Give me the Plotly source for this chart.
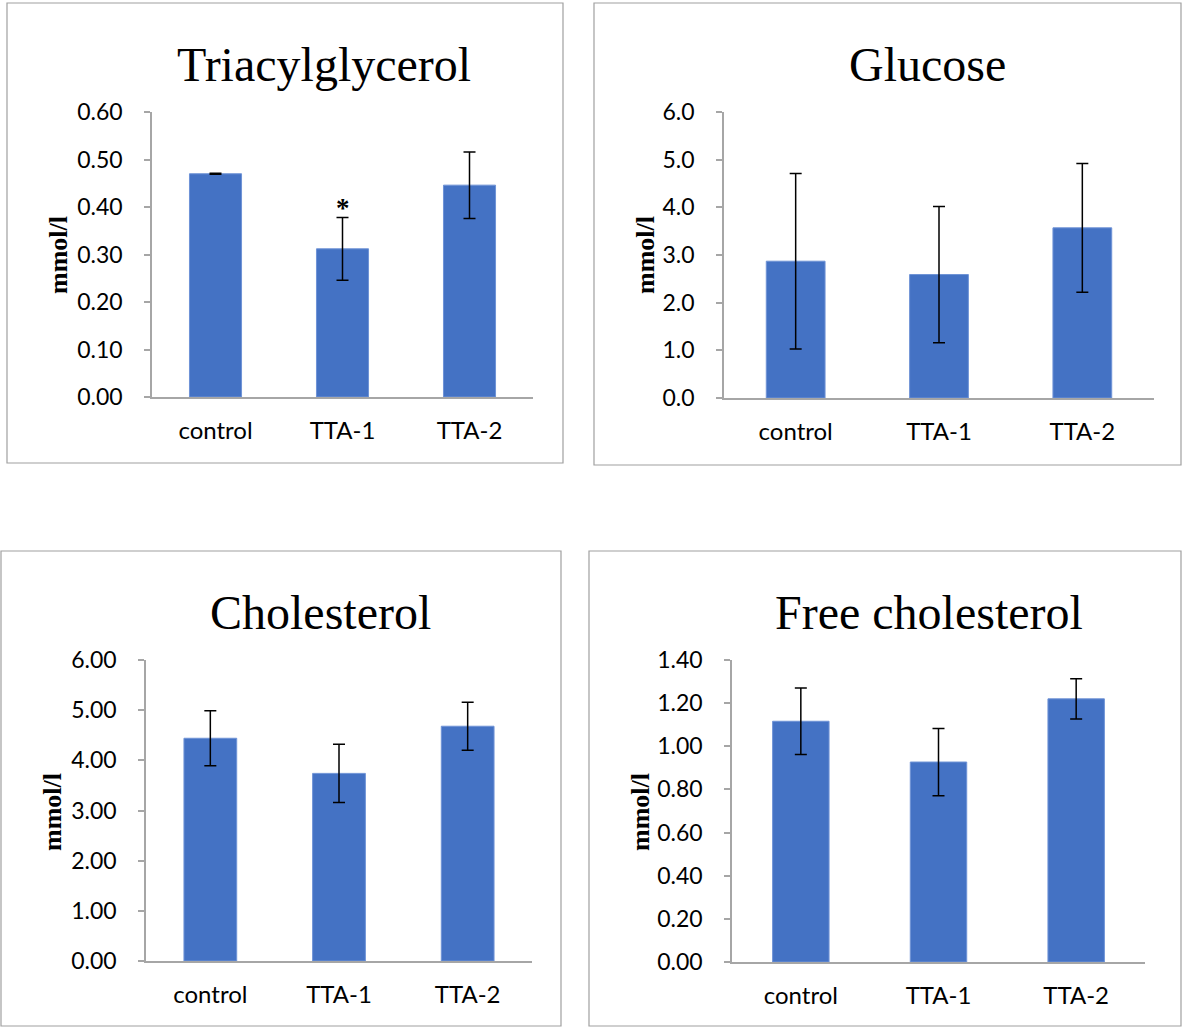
import plotly.graph_objects as go

W, H = 1183, 1028

categories = ["control", "TTA-1", "TTA-2"]

tag_values = [0.470, 0.312, 0.446]
tag_errors = [0.001, 0.066, 0.070]
tag_ticks = [0.0, 0.1, 0.2, 0.3, 0.4, 0.5, 0.6]
tag_ticklabels = ["0.00", "0.10", "0.20", "0.30", "0.40", "0.50", "0.60"]

glu_values = [2.87, 2.59, 3.57]
glu_errors = [1.84, 1.43, 1.35]
glu_ticks = [0, 1, 2, 3, 4, 5, 6]
glu_ticklabels = ["0.0", "1.0", "2.0", "3.0", "4.0", "5.0", "6.0"]

chol_values = [4.44, 3.74, 4.68]
chol_errors = [0.55, 0.58, 0.48]
chol_ticks = [0, 1, 2, 3, 4, 5, 6]
chol_ticklabels = ["0.00", "1.00", "2.00", "3.00", "4.00", "5.00", "6.00"]

fc_values = [1.116, 0.927, 1.220]
fc_errors = [0.154, 0.156, 0.093]
fc_ticks = [0, 0.2, 0.4, 0.6, 0.8, 1.0, 1.2, 1.4]
fc_ticklabels = ["0.00", "0.20", "0.40", "0.60", "0.80", "1.00", "1.20", "1.40"]

titles = ["Triacylglycerol", "Glucose", "Cholesterol", "Free cholesterol"]
ytitle = "mmol/l"

BAR = "#4472C4"
AXC = "#A6A6A6"
YTICKFONT = dict(family="Lato, Open Sans, sans-serif", size=23, color="#000000")
XTICKFONT = dict(family="Lato, Open Sans, sans-serif", size=24, color="#000000")
SERIF = "Liberation Serif, Times New Roman, serif"


def px_x(x):
    return x / W


def px_y(y):
    return 1 - y / H


panels = [
    dict(v=tag_values, e=tag_errors, t=tag_ticks, tl=tag_ticklabels,
         x0=152, x1=533, yt=112, yb=397, ymax=0.6,
         box=(7, 3, 563, 463), tpos=(324, 64), ypos=(58, 255)),
    dict(v=glu_values, e=glu_errors, t=glu_ticks, tl=glu_ticklabels,
         x0=724, x1=1154, yt=112, yb=398, ymax=6,
         box=(594, 3, 1181, 465), tpos=(927, 64), ypos=(645, 255)),
    dict(v=chol_values, e=chol_errors, t=chol_ticks, tl=chol_ticklabels,
         x0=146, x1=532, yt=660, yb=961, ymax=6,
         box=(1, 551, 561, 1026), tpos=(320, 612), ypos=(52, 812)),
    dict(v=fc_values, e=fc_errors, t=fc_ticks, tl=fc_ticklabels,
         x0=732, x1=1145, yt=660, yb=962, ymax=1.4,
         box=(589, 551, 1181, 1026), tpos=(929, 612), ypos=(640, 812)),
]

fig = go.Figure()
shapes = []
annotations = []

for i, p in enumerate(panels):
    n = "" if i == 0 else str(i + 1)
    fig.add_trace(go.Bar(
        x=categories, y=p["v"],
        error_y=dict(type="data", array=p["e"], visible=True,
                     color="#000000", thickness=1.5, width=6),
        marker=dict(color=BAR, line=dict(color="#6f93d6", width=1)),
        width=0.41,
        xaxis="x" + n, yaxis="y" + n, showlegend=False,
    ))
    fig.layout["xaxis" + n] = dict(
        domain=[px_x(p["x0"]), px_x(p["x1"])], anchor="y" + n,
        showline=True, linecolor=AXC, linewidth=1.5, ticks="",
        showgrid=False, tickfont=XTICKFONT, ticklabelstandoff=11,
        fixedrange=True, automargin=False,
    )
    fig.layout["yaxis" + n] = dict(
        domain=[px_y(p["yb"]), px_y(p["yt"])], anchor="x" + n,
        range=[0, p["ymax"]], tickvals=p["t"], ticktext=p["tl"],
        showline=True, linecolor=AXC, linewidth=1.5,
        ticks="outside", ticklen=6, tickcolor=AXC, tickwidth=1.5,
        showgrid=False, zeroline=False, tickfont=YTICKFONT,
        ticklabelstandoff=17, fixedrange=True, automargin=False,
    )
    bx0, by0, bx1, by1 = p["box"]
    shapes.append(dict(type="rect", xref="paper", yref="paper",
                       x0=px_x(bx0), x1=px_x(bx1), y0=px_y(by1), y1=px_y(by0),
                       line=dict(color="#A0A0A0", width=1.2)))
    annotations.append(dict(
        text=titles[i], xref="paper", yref="paper",
        x=px_x(p["tpos"][0]), y=px_y(p["tpos"][1]),
        xanchor="center", yanchor="middle", showarrow=False,
        font=dict(family=SERIF, size=48, color="#000000"),
    ))
    annotations.append(dict(
        text="<b>" + ytitle + "</b>", xref="paper", yref="paper",
        x=px_x(p["ypos"][0]), y=px_y(p["ypos"][1]), textangle=-90,
        xanchor="center", yanchor="middle", showarrow=False,
        font=dict(family=SERIF, size=26, color="#000000"),
    ))

# significance star above TTA-1 (Triacylglycerol)
annotations.append(dict(
    text="<b>*</b>", xref="x", yref="y", x=categories[1],
    y=tag_values[1] + tag_errors[1], yanchor="bottom", showarrow=False,
    yshift=-8,
    font=dict(family=SERIF, size=27, color="#000000"),
))

fig.update_layout(
    width=W, height=H,
    margin=dict(l=0, r=0, t=0, b=0, pad=0, autoexpand=False),
    paper_bgcolor="white", plot_bgcolor="white",
    shapes=shapes, annotations=annotations, showlegend=False,
)

fig.write_html(
    "out.html", config={"displayModeBar": False},
    post_script="document.body.style.margin='0px';",
)
